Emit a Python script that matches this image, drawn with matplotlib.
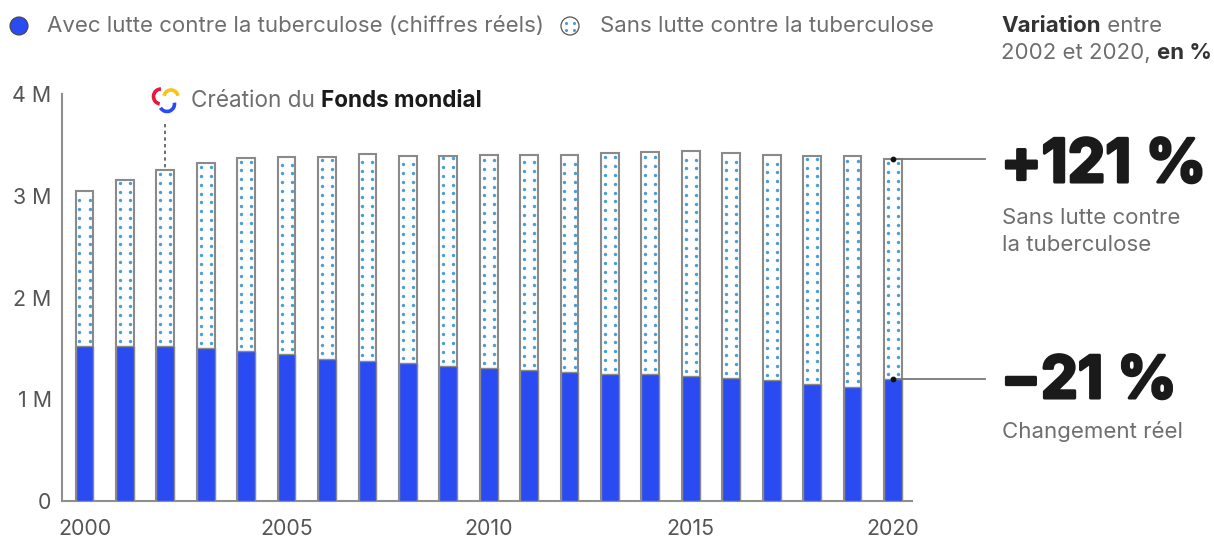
import matplotlib
matplotlib.use("Agg")
import matplotlib.pyplot as plt
import matplotlib.patheffects as pe
from matplotlib.patches import Arc, Circle
import numpy as np

plt.rcParams['font.family'] = ['Inter', 'DejaVu Sans']

years = list(range(2000, 2021))
sans_lutte = [3.05, 3.155, 3.255, 3.325, 3.37, 3.385, 3.38, 3.41, 3.395, 3.395, 3.405,
              3.405, 3.405, 3.42, 3.43, 3.44, 3.42, 3.405, 3.39, 3.39, 3.365]
avec_lutte = [1.52, 1.52, 1.52, 1.50, 1.47, 1.44, 1.40, 1.38, 1.36, 1.33, 1.31,
              1.29, 1.27, 1.25, 1.25, 1.23, 1.21, 1.19, 1.15, 1.125, 1.195]
y_ticks = [0, 1, 2, 3, 4]
y_labels = ['0', '1 M', '2 M', '3 M', '4 M']
x_ticks = [2000, 2005, 2010, 2015, 2020]
legend_labels = ['Avec lutte contre la tuberculose (chiffres réels)', 'Sans lutte contre la tuberculose']

BLUE = '#2b4bf2'
DOT = '#4a9ed6'
EDGE = '#8a8a8a'
GREY = '#6e6e6e'
DARK = '#1a1a1a'
W, H = 1214, 538

fig = plt.figure(figsize=(W / 100, H / 100), dpi=100, facecolor='white')
ax = fig.add_axes([62 / W, 1 - 501 / H, (912 - 62) / W, (501 - 94) / H])
ov = fig.add_axes([0, 0, 1, 1], facecolor='none')
ov.set_xlim(0, W); ov.set_ylim(H, 0); ov.axis('off')

ax.set_xlim(2000 - 22.5 / 40.42, 2000 + (912 - 84.5) / 40.42)
ax.set_ylim(0, 4)
bar_w = 0.44
ax.bar(years, sans_lutte, width=bar_w, facecolor='white', edgecolor=EDGE, linewidth=1.5, zorder=2)
ax.bar(years, avec_lutte, width=bar_w, facecolor=BLUE, edgecolor=EDGE, linewidth=1.0, zorder=4)

# dotted fill
for yr, top, low in zip(years, sans_lutte, avec_lutte):
    ys = np.arange(low + 0.05, top - 0.02, 0.0865)
    for dx in (-0.125, 0.125):
        ax.scatter([yr + dx] * len(ys), ys, s=6, color=DOT, linewidths=0, zorder=3)

for s in ('top', 'right'):
    ax.spines[s].set_visible(False)
for s in ('left', 'bottom'):
    ax.spines[s].set_color('#8f8f8f')
    ax.spines[s].set_linewidth(1.5)
ax.set_yticks(y_ticks, y_labels)
ax.set_xticks(x_ticks, [str(x) for x in x_ticks])
ax.tick_params(length=0, labelsize=15.4, labelcolor='#555555')
ax.tick_params(axis='y', pad=7.5)
ax.tick_params(axis='x', pad=13)

def runs(x, y, parts, size):
    """Draw consecutive text runs on one baseline, px coordinates."""
    r = fig.canvas.get_renderer()
    for s, w, c in parts:
        t = ov.text(x, y, s, fontsize=size, fontweight=w, color=c, va='baseline', ha='left')
        x = ov.transData.inverted().transform(t.get_window_extent(r).get_points())[1, 0]
    return x

# legend
ov.add_patch(Circle((19, 26), 9, facecolor=BLUE, edgecolor='#444444', linewidth=0.8))
ov.add_patch(Circle((570, 26), 9, facecolor='white', edgecolor='#555555', linewidth=0.9))
ov.scatter([566, 574, 566, 574], [23, 23, 30, 30], s=5, color=DOT, linewidths=0)
ov.text(47, 32, legend_labels[0], fontsize=16, color=GREY)
ov.text(600, 32, legend_labels[1], fontsize=16, color=GREY)

# header right
runs(1001, 32, [('Variation', 'bold', '#333333'), (' entre', 'normal', GREY)], 16)
runs(1001, 59, [('2002 et 2020, ', 'normal', GREY), ('en %', 'bold', '#333333')], 16)

# annotation
runs(191, 107, [('Création du ', 'normal', GREY), ('Fonds mondial', 'bold', DARK)], 16.2)
ov.plot([165, 165], [124, 170], color='#555555', lw=1.2, ls=(0, (2, 2)))
ov.add_patch(Arc((161, 96.5), 15, 15, theta1=100, theta2=270, color='#e8173c', lw=2.6))
ov.add_patch(Arc((171, 97), 14, 14, theta1=190, theta2=350, color='#f6c515', lw=2.6))
ov.add_patch(Arc((167, 104), 15, 15, theta1=-10, theta2=150, color='#2b4bf2', lw=2.6))

# callouts
for yv in (sans_lutte[-1], avec_lutte[-1]):
    ypx = 501 - yv * (501 - 94) / 4
    ov.plot([893, 985], [ypx, ypx], color='#777777', lw=1.3)
    ov.scatter([893], [ypx], s=10, color='#111111', zorder=5)

big = [pe.withStroke(linewidth=2.2, foreground=DARK)]
ov.text(1001, 182, '+121 %', fontsize=43.2, fontweight='bold', color=DARK, path_effects=big)
ov.text(1001, 398, '−21 %', fontsize=42.3, fontweight='bold', color=DARK, path_effects=big)
ov.text(1002, 224, 'Sans lutte contre', fontsize=16, color=GREY)
ov.text(1002, 251, 'la tuberculose', fontsize=16, color=GREY)
ov.text(1002, 438, 'Changement réel', fontsize=16, color=GREY)

fig.savefig('out.png', dpi=100)
